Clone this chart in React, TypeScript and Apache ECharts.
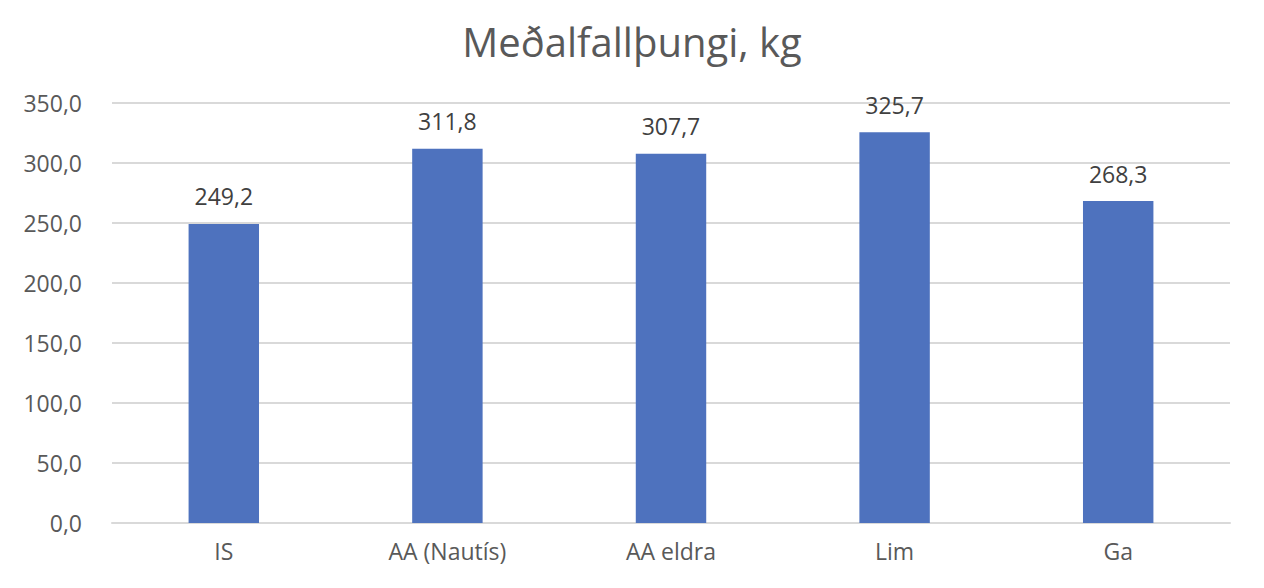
import React, { useEffect, useRef } from "react";
import * as echarts from "echarts";

const title = "Meðalfallþungi, kg";
const categories = ["IS", "AA (Nautís)", "AA eldra", "Lim", "Ga"];
const values = [249.2, 311.8, 307.7, 325.7, 268.3];
const yMin = 0;
const yMax = 350;
const yInterval = 50;

const fmt = (v: number) => v.toFixed(1).replace(".", ",");

export default function App() {
  const ref = useRef<HTMLDivElement>(null);
  useEffect(() => {
    if (!ref.current) return;
    const chart = echarts.init(ref.current, null, { renderer: "svg" });
    chart.setOption({
      animation: false,
      backgroundColor: "#ffffff",
      textStyle: { fontFamily: "Open Sans" },
      title: {
        text: title,
        left: "center",
        top: 16,
        textStyle: { fontSize: 40, fontWeight: "normal", color: "#595959", fontFamily: "Open Sans" },
      },
      grid: { left: 112, right: 34, top: 103, bottom: 65, containLabel: false },
      xAxis: {
        type: "category",
        data: categories,
        axisLine: { lineStyle: { color: "#d9d9d9", width: 2 } },
        axisTick: { show: false },
        axisLabel: { fontSize: 23, color: "#595959", margin: 16, fontFamily: "Open Sans" },
      },
      yAxis: {
        type: "value",
        min: yMin,
        max: yMax,
        interval: yInterval,
        axisLine: { show: false },
        axisTick: { show: false },
        splitLine: { lineStyle: { color: "#d9d9d9", width: 2 } },
        axisLabel: { fontSize: 23, color: "#595959", margin: 30, formatter: (v: number) => fmt(v), fontFamily: "Open Sans" },
      },
      series: [
        {
          type: "bar",
          data: values,
          barWidth: "31.5%",
          itemStyle: { color: "#4E72BE" },
          label: {
            show: true,
            position: "top",
            distance: 16,
            fontSize: 23,
            color: "#404040",
            fontFamily: "Open Sans",
            formatter: (p: any) => fmt(p.value),
          },
        },
      ],
    });
    return () => chart.dispose();
  }, []);
  return <div ref={ref} style={{ position: "fixed", left: 0, top: 0, width: 1264, height: 588 }} />;
}
